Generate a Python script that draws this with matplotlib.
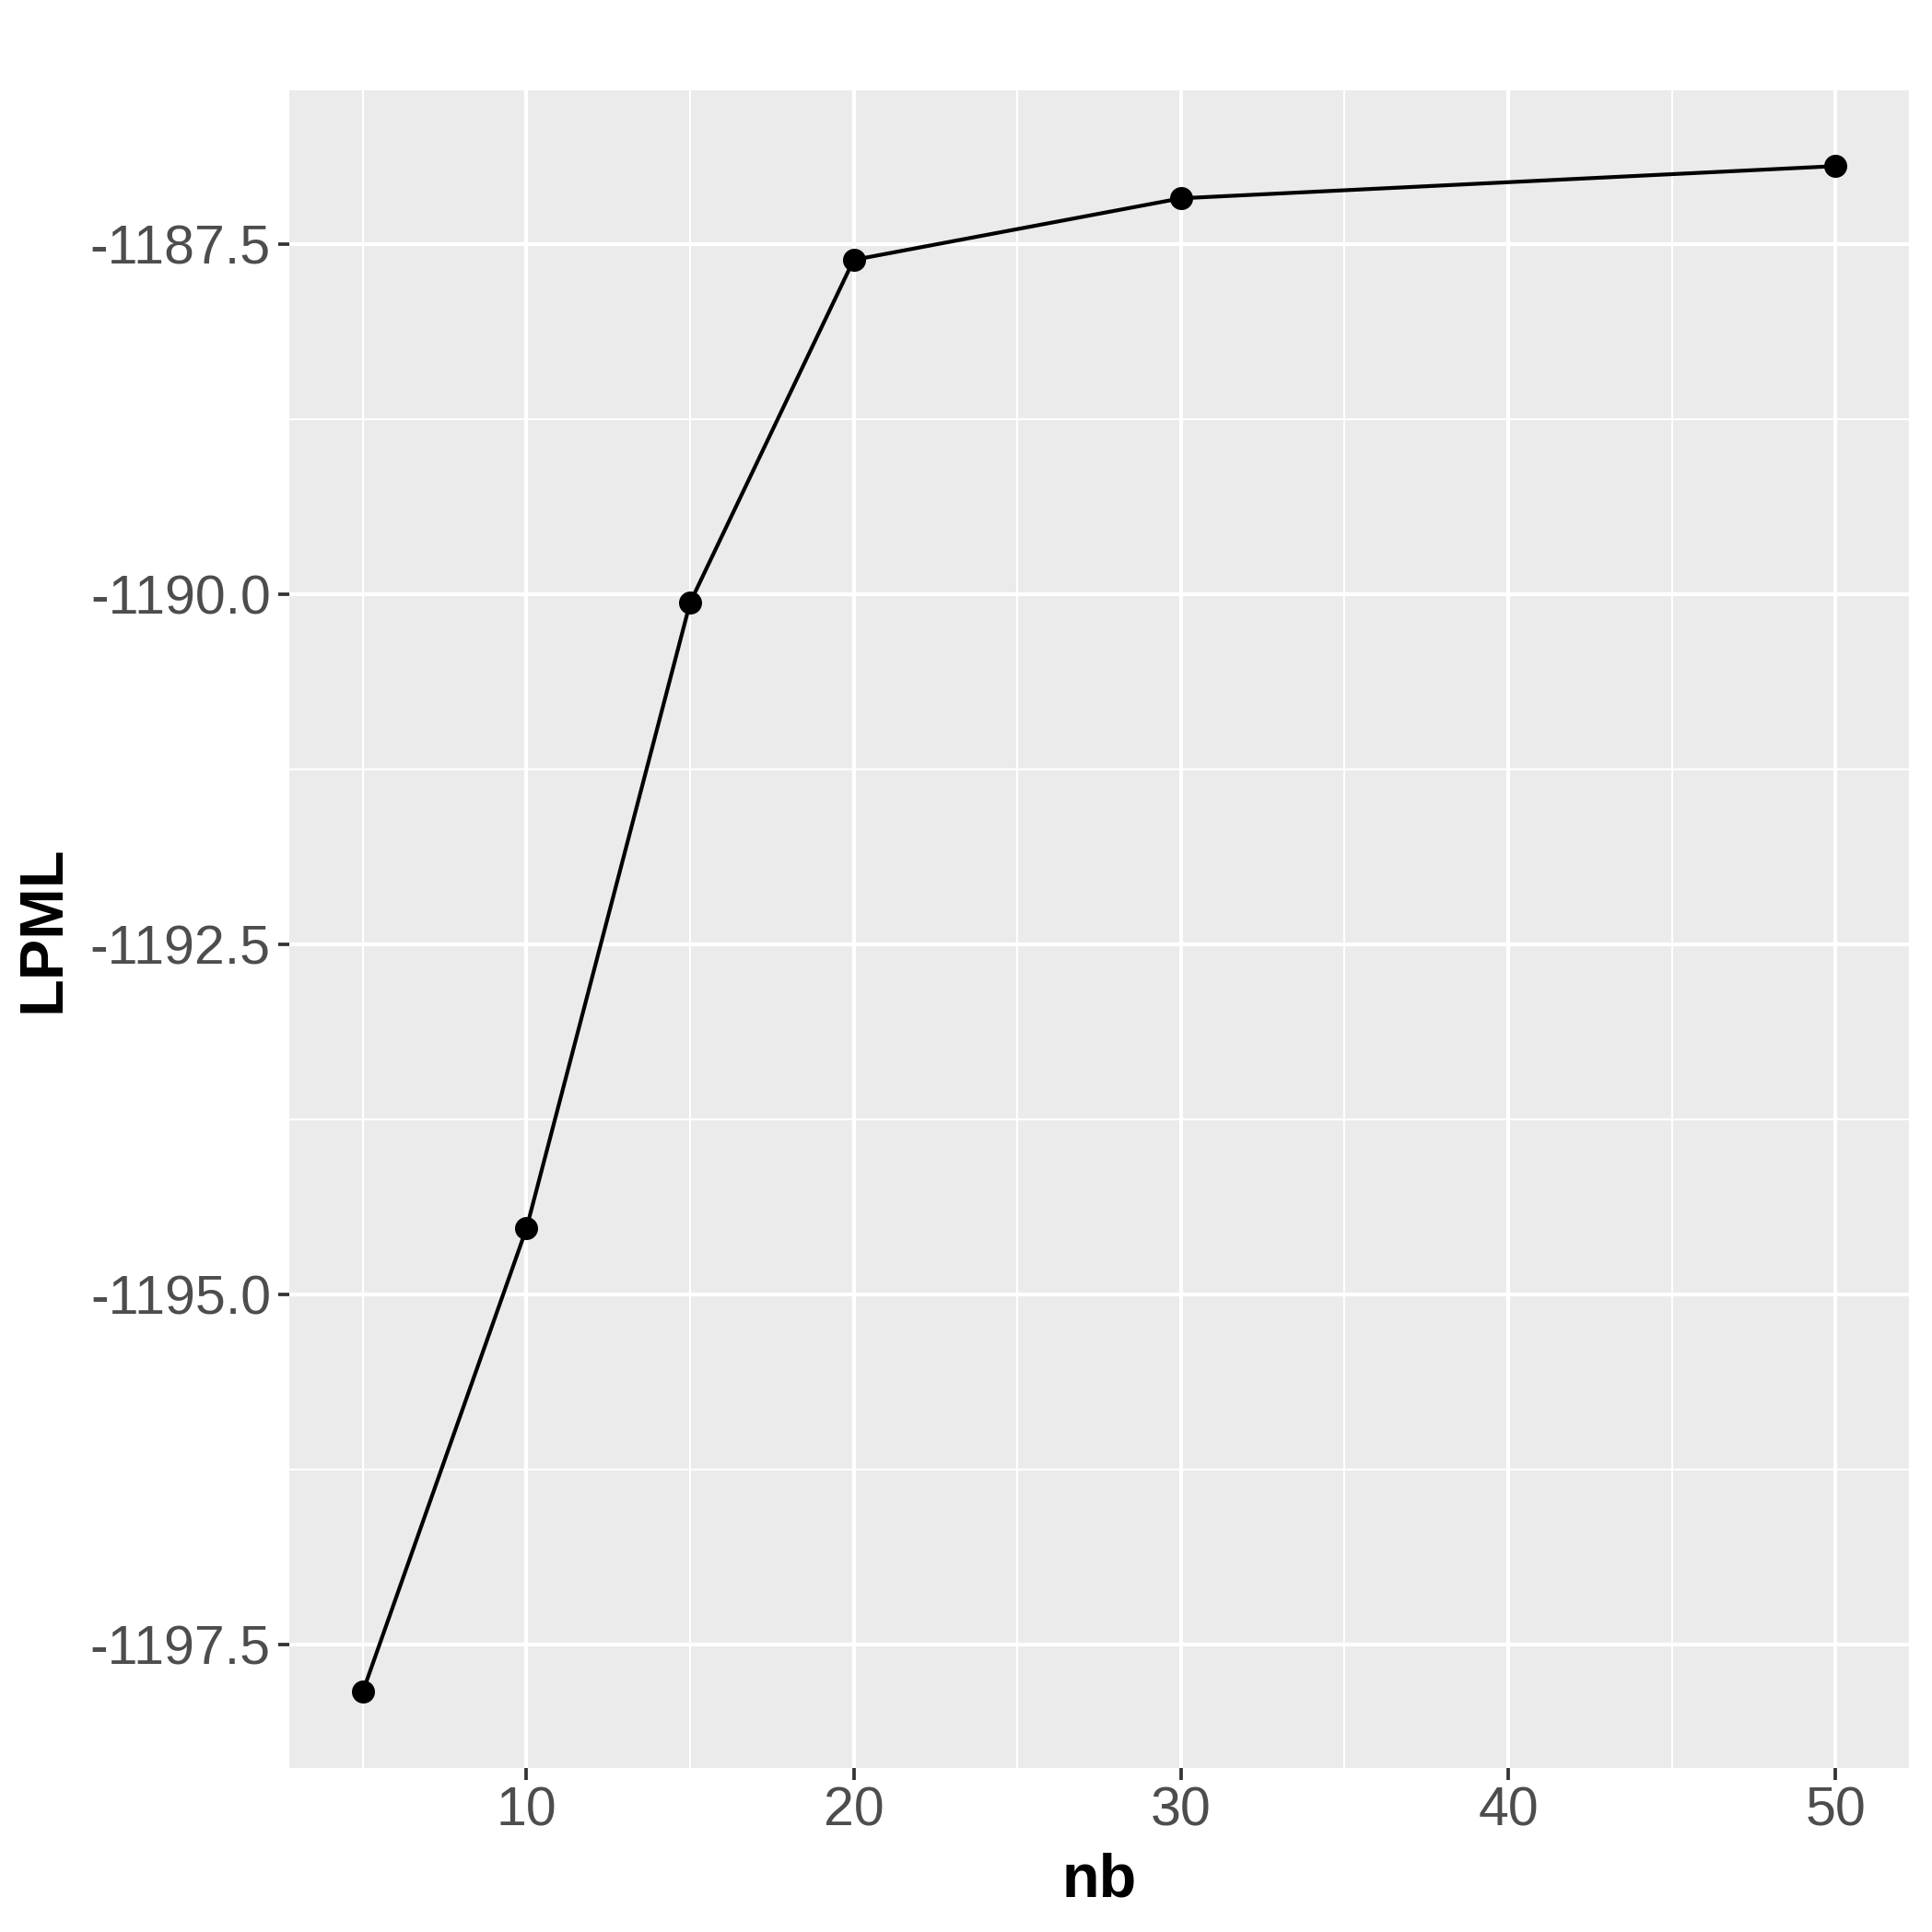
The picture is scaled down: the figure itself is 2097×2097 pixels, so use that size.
import numpy as np
import matplotlib
matplotlib.use("Agg")
import matplotlib.pyplot as plt
from matplotlib.ticker import MultipleLocator

plt.rcParams['font.family'] = ['Liberation Sans', 'DejaVu Sans']

nb = [5, 10, 15, 20, 30, 50]
lpml = [-1197.84, -1194.53, -1190.06, -1187.61, -1187.17, -1186.94]
xticks = [10, 20, 30, 40, 50]
yticks = [-1197.5, -1195.0, -1192.5, -1190.0, -1187.5]

fig = plt.figure(figsize=(2097 / 300, 2097 / 300), dpi=300)
ax = fig.add_axes([0.1497, 0.0849, 0.9881 - 0.1497, 0.9535 - 0.0849])
ax.set_facecolor('#EBEBEB')

ax.plot(nb, lpml, color='black', lw=1.0, zorder=3)
ax.scatter(nb, lpml, color='black', s=36, zorder=4, linewidths=0)

# ggplot style default expansion
xr = max(nb) - min(nb)
yr = max(lpml) - min(lpml)
ax.set_xlim(min(nb) - 0.05 * xr, max(nb) + 0.05 * xr)
ax.set_ylim(min(lpml) - 0.05 * yr, max(lpml) + 0.05 * yr)

ax.set_xticks(xticks)
ax.set_yticks(yticks)
ax.set_yticklabels([f'{v:.1f}' for v in yticks])
ax.xaxis.set_minor_locator(MultipleLocator(10, offset=5))
ax.yaxis.set_minor_locator(MultipleLocator(2.5, offset=1.25))

ax.grid(which='major', color='white', lw=1.0, zorder=0)
ax.grid(which='minor', color='white', lw=0.5, zorder=0)
ax.set_axisbelow(True)
for s in ax.spines.values():
    s.set_visible(False)

ax.tick_params(which='major', length=3, width=0.9, color='#333333',
               labelsize=14.2, labelcolor='#4D4D4D', pad=1.8)
ax.tick_params(which='minor', length=0)

ax.set_xlabel('nb', fontsize=16, fontweight='bold', labelpad=4)
ax.set_ylabel('LPML', fontsize=16, fontweight='bold', labelpad=4.5)

fig.savefig('out.png', dpi=300, facecolor='white')
